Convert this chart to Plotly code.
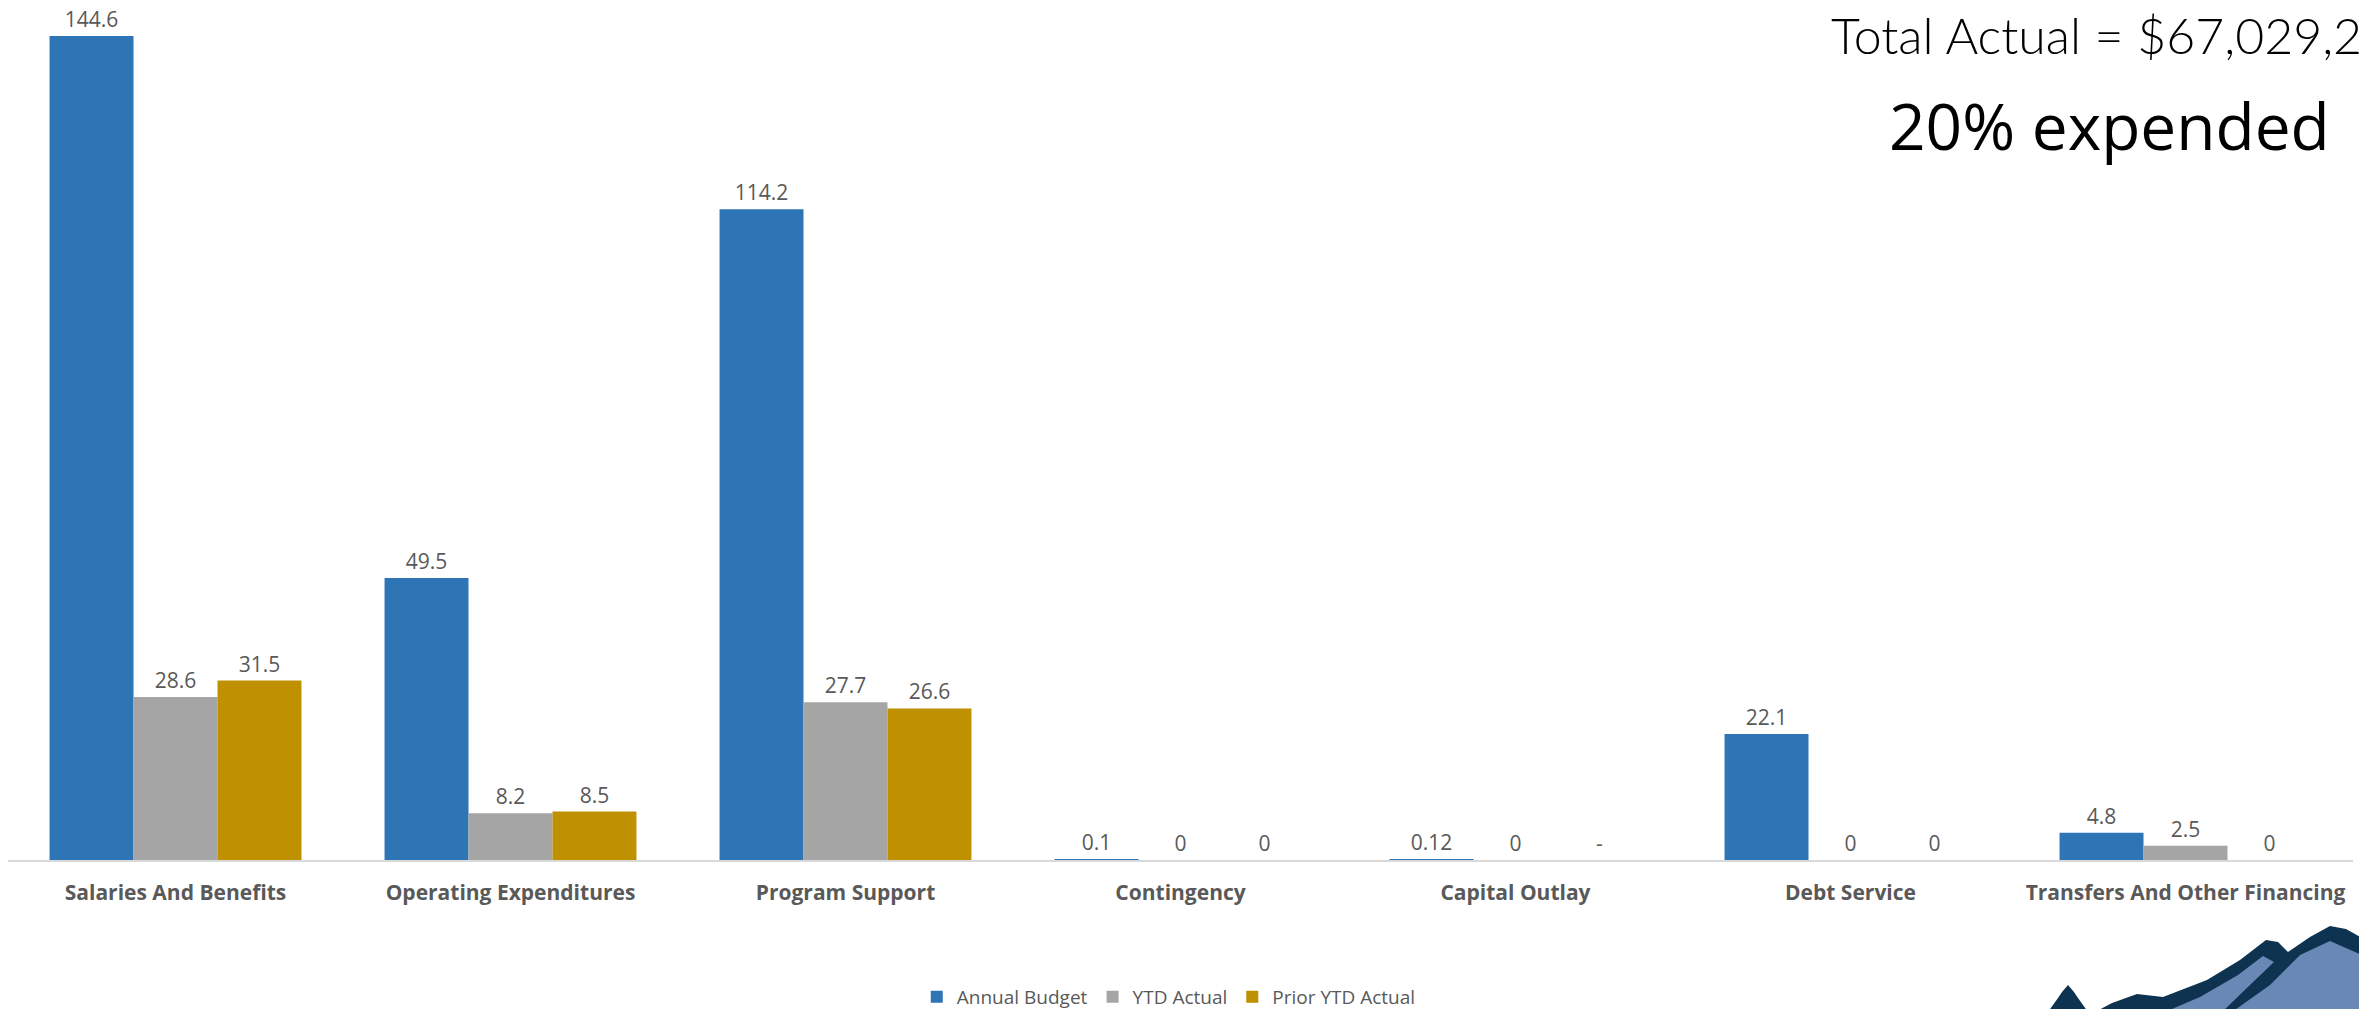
import plotly.graph_objects as go

categories = ["Salaries And Benefits", "Operating Expenditures", "Program Support",
              "Contingency", "Capital Outlay", "Debt Service", "Transfers And Other Financing"]
annual_budget = [144.6, 49.5, 114.2, 0.1, 0.12, 22.1, 4.8]
ytd_actual = [28.6, 8.2, 27.7, 0, 0, 0, 2.5]
prior_ytd_actual = [31.5, 8.5, 26.6, 0, 0, 0, 0]
annual_labels = ["144.6", "49.5", "114.2", "0.1", "0.12", "22.1", "4.8"]
ytd_labels = ["28.6", "8.2", "27.7", "0", "0", "0", "2.5"]
prior_labels = ["31.5", "8.5", "26.6", "0", "-", "0", "0"]

W, H = 2359, 1009
ML, MR, MT, MB = 8, 6, 20, 149
PW, PH = W - ML - MR, H - MT - MB


def px(x):
    return (x - ML) / PW


def py(y):
    return (H - MB - y) / PH


label_font = dict(family="Open Sans", size=21, color="#595959")

fig = go.Figure()
for name, vals, labels, color in [
    ("Annual Budget", annual_budget, annual_labels, "#2E75B6"),
    ("YTD Actual", ytd_actual, ytd_labels, "#A5A5A5"),
    ("Prior YTD Actual", prior_ytd_actual, prior_labels, "#BF9000"),
]:
    fig.add_trace(go.Bar(
        name=name, x=categories, y=vals, marker=dict(color=color, line=dict(width=0)),
        text=labels, textposition="outside", textfont=label_font,
        constraintext="none", cliponaxis=False, textangle=0,
    ))

# logo (decorative mountains, bottom-right)
def path(points):
    s = "M " + " L ".join(f"{px(a):.5f},{py(b):.5f}" for a, b in points) + " Z"
    return s

dark = [(2095, 1012), (2112, 1003), (2137, 994), (2163, 997), (2207, 980), (2240, 960),
        (2266, 940), (2278, 942), (2288, 952), (2310, 937), (2330, 926), (2346, 929),
        (2362, 938), (2362, 1012)]
light_left = [(2165, 1012), (2200, 997), (2238, 975), (2263, 956), (2274, 962),
              (2250, 985), (2222, 1012)]
light_right = [(2232, 1012), (2270, 985), (2300, 955), (2330, 941), (2362, 955), (2362, 1012)]
tree = [(2048, 1012), (2058, 998), (2062, 992), (2068, 985), (2074, 992), (2078, 998), (2088, 1012)]
shapes = [
    dict(type="path", xref="paper", yref="paper", path=path(dark), fillcolor="#0D3350", line=dict(width=0), layer="above"),
    dict(type="path", xref="paper", yref="paper", path=path(light_left), fillcolor="#6A88B5", line=dict(width=0), layer="above"),
    dict(type="path", xref="paper", yref="paper", path=path(light_right), fillcolor="#6A88B5", line=dict(width=0), layer="above"),
    dict(type="path", xref="paper", yref="paper", path=path(tree), fillcolor="#0D3350", line=dict(width=0), layer="above"),
]

annotations = [
    dict(text="Total Actual = $67,029,2", xref="paper", yref="paper", x=px(1829), y=py(35),
         xanchor="left", yanchor="middle", showarrow=False,
         font=dict(family="Lato", size=50, color="#000000", weight=300)),
    dict(text="20% expended", xref="paper", yref="paper", x=px(1887), y=py(125),
         xanchor="left", yanchor="middle", showarrow=False,
         font=dict(family="Open Sans", size=64, color="#000000")),
]

fig.update_layout(
    width=W, height=H,
    margin=dict(l=ML, r=MR, t=MT, b=MB, autoexpand=False),
    paper_bgcolor="white", plot_bgcolor="white",
    barmode="group", bargap=0.248, bargroupgap=0,
    showlegend=True,
    legend=dict(orientation="h", x=0.495, xanchor="center", y=py(997), yanchor="middle",
                font=dict(family="Open Sans", size=19, color="#595959"),
                traceorder="normal", itemclick=False),
    xaxis=dict(showline=True, linecolor="#D9D9D9", linewidth=2, ticks="",
               showgrid=False, zeroline=False, ticklabelstandoff=13,
               tickfont=dict(family="Open Sans", size=21, color="#595959", weight="bold")),
    yaxis=dict(range=[0, PH / (824 / 144.6)], showgrid=False, zeroline=False,
               showticklabels=False, showline=False),
    shapes=shapes, annotations=annotations,
)

fig.write_html("out.html", include_plotlyjs=True, full_html=True,
               config={"displayModeBar": False},
               post_script="document.body.style.margin='0';document.body.style.overflow='hidden';")
